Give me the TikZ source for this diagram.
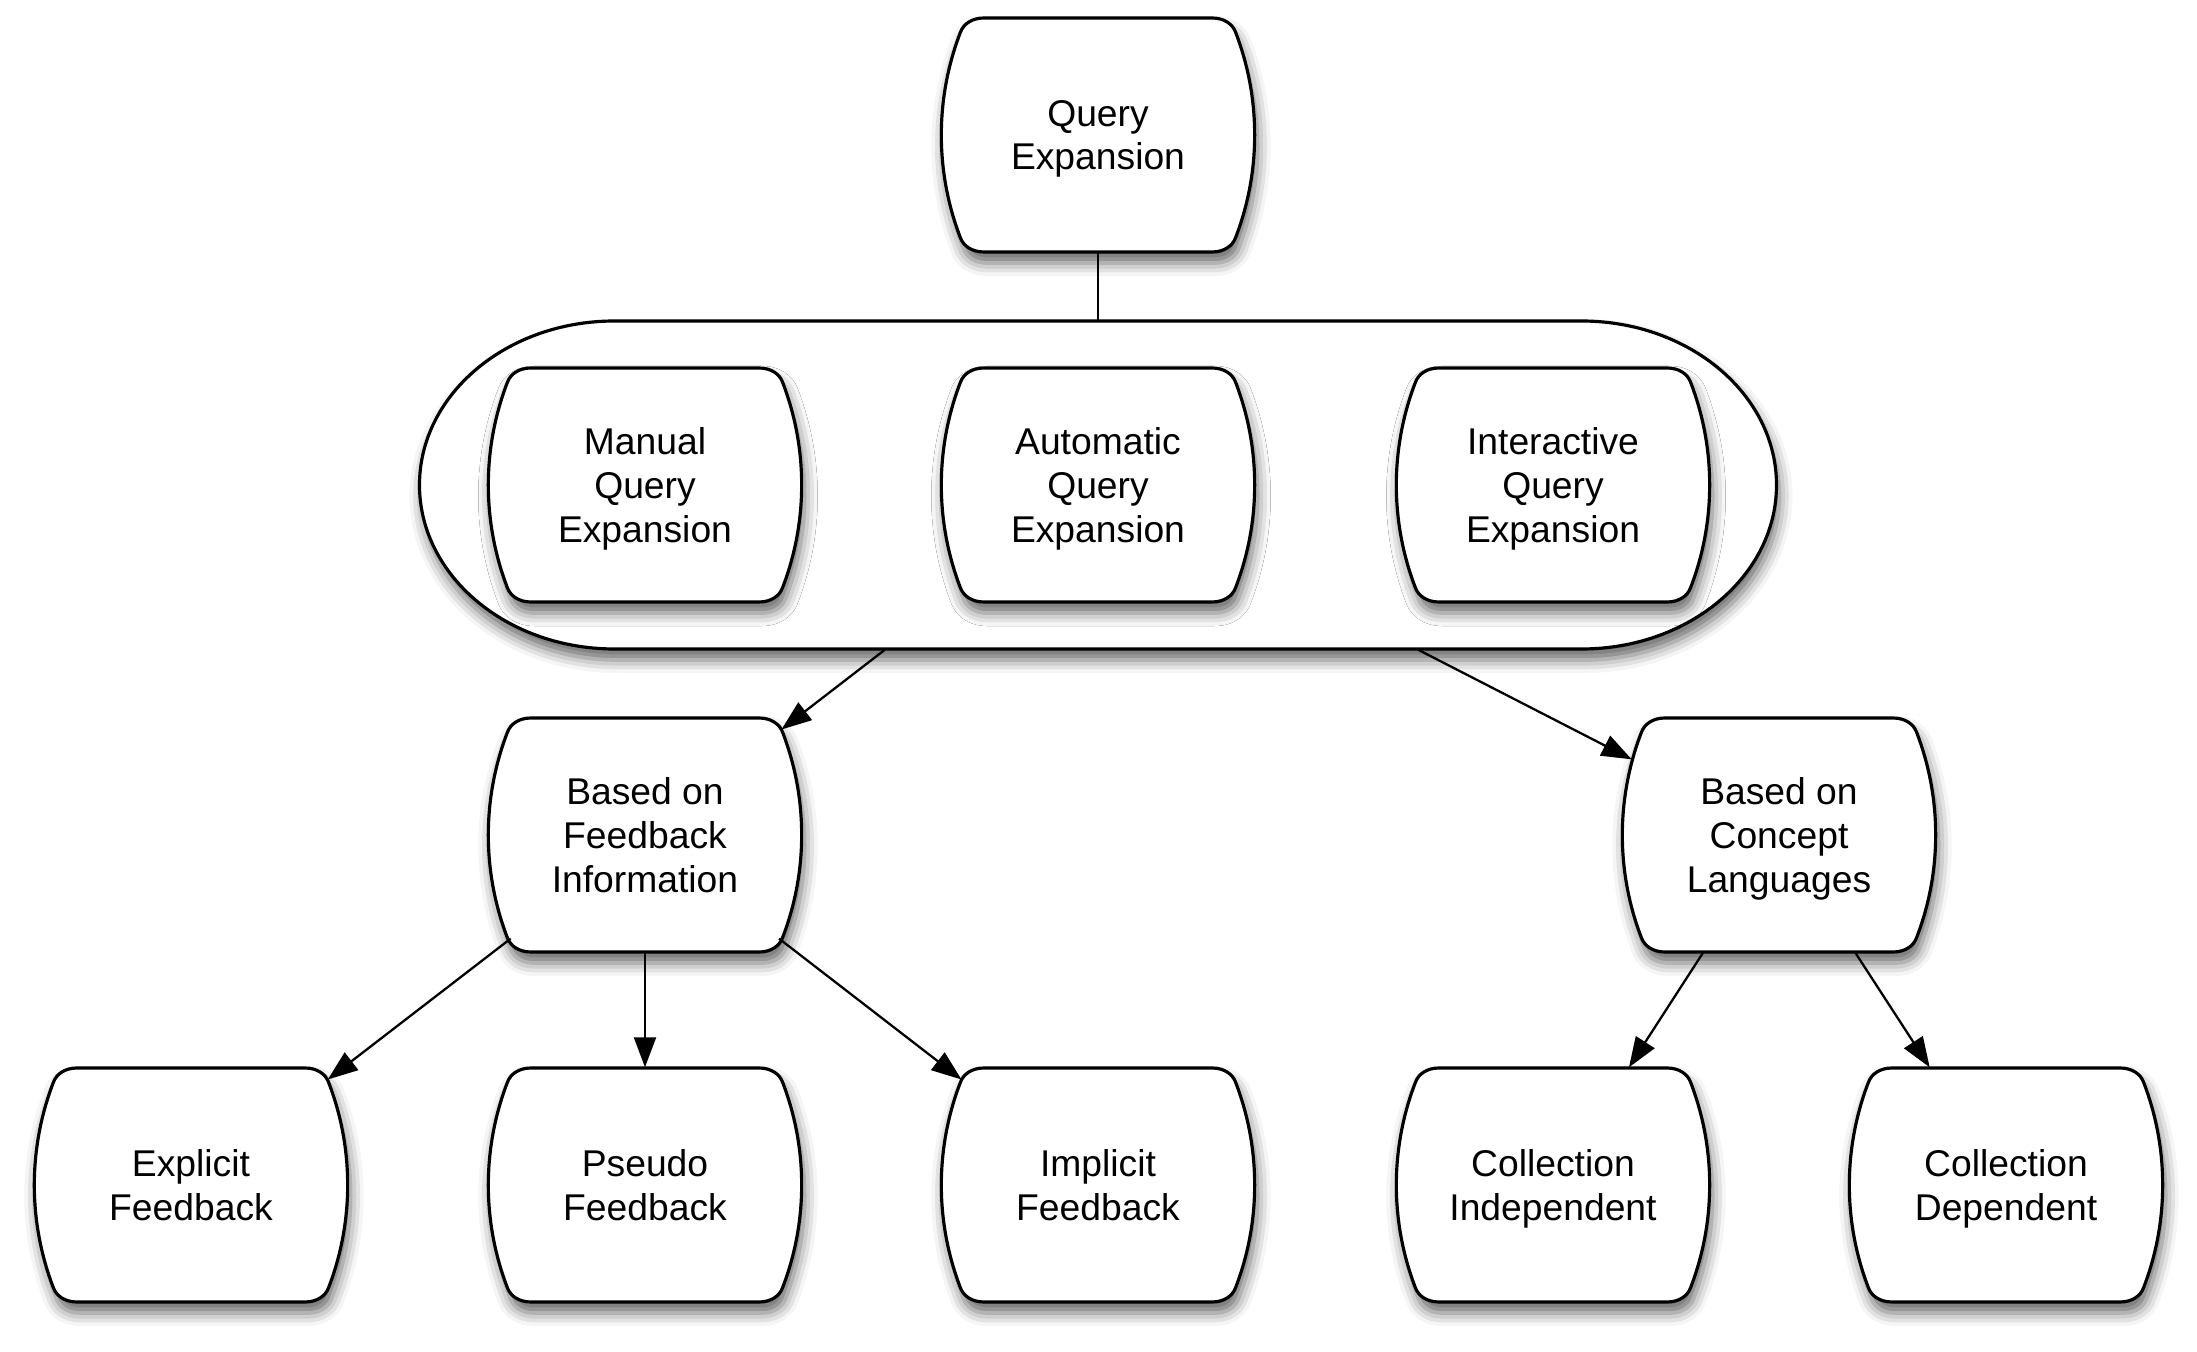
\documentclass[tikz,border=0pt]{standalone}
\usepackage{fontspec}
\setmainfont{Liberation Sans}
\usetikzlibrary{positioning, arrows.meta, backgrounds, shadows.blur}

\tikzset{
  box/.style={rectangle, minimum width=3.11cm, minimum height=2.34cm, align=center, text depth=0pt, font=\fontsize{10.6}{12.5}\selectfont},
  outline/.style={draw, line width=0.9pt, fill=white, blur shadow={shadow xshift=0.03cm, shadow yshift=-0.11cm, shadow blur radius=0.13cm, shadow opacity=60}},
  link/.style={line width=0.65pt, -{Triangle[length=0.3cm,width=0.22cm]}}
}

% barrel outline round a box node
\newcommand{\barrel}[1]{%
  \path[outline, shift={(#1.center)}] (-1.14,1.17) -- (1.14,1.17)
    .. controls (1.26,1.17) and (1.345,1.11) .. (1.375,1.03)
    arc[start angle=21.1, end angle=-21.1, radius=2.86cm]
    .. controls (1.345,-1.11) and (1.26,-1.17) .. (1.14,-1.17)
    -- (-1.14,-1.17)
    .. controls (-1.26,-1.17) and (-1.345,-1.11) .. (-1.375,-1.03)
    arc[start angle=201.1, end angle=158.9, radius=2.86cm]
    .. controls (-1.345,1.11) and (-1.26,1.17) .. cycle;}

\begin{document}
\begin{tikzpicture}[node distance=3.5cm]
        \useasboundingbox (-10.98,1.35) rectangle (10.99,-12.17);

        % Root
        \node[box] (qe) {Query\\Expansion};

        % Kinds of expansion
        \node[rectangle, minimum width=13.57cm, minimum height=3.28cm, below of=qe] (methods) {};
        \node[box] (auto) at (methods) {Automatic\\Query\\Expansion};
        \node[box, left of=auto, node distance=4.53cm] (manual) {Manual\\Query\\Expansion};
        \node[box, right of=auto, node distance=4.55cm] (inter) {Interactive\\Query\\Expansion};

        % Approaches
        \node[box, below of=manual] (feedback) {Based on\\Feedback\\Information};
        \node[box, right of=feedback, node distance=11.34cm] (concept) {Based on\\Concept\\Languages};

        % Leaves
        \node[box, below of=feedback] (pseudo) {Pseudo\\Feedback};
        \node[box, left of=pseudo, node distance=4.54cm] (explicit) {Explicit\\Feedback};
        \node[box, right of=pseudo, node distance=4.53cm] (implicit) {Implicit\\Feedback};
        \node[box, below of=inter, node distance=7cm] (indep) {Collection\\Independent};
        \node[box, right of=indep, node distance=4.53cm] (dep) {Collection\\Dependent};

        % Outlines
        \begin{scope}[on background layer]
            \path[outline, shift={(methods.center)}] (-4.835,1.64) -- (4.835,1.64)
                arc[start angle=90, end angle=-90, x radius=1.95cm, y radius=1.64cm]
                -- (-4.835,-1.64)
                arc[start angle=270, end angle=90, x radius=1.95cm, y radius=1.64cm] -- cycle;
            \barrel{qe}
            \barrel{manual}
            \barrel{auto}
            \barrel{inter}
            \barrel{feedback}
            \barrel{concept}
            \barrel{explicit}
            \barrel{pseudo}
            \barrel{implicit}
            \barrel{indep}
            \barrel{dep}
        \end{scope}

        % Connections
        \draw[line width=0.65pt] (qe) -- (methods);
        \draw[link, shorten >=-0.2cm] (methods) -- (feedback);
        \draw[link, shorten >=-0.1cm] (methods) -- (concept);
        \draw[link, shorten <=-0.23cm, shorten >=-0.2cm] (feedback) -- (explicit);
        \draw[link] (feedback) -- (pseudo);
        \draw[link, shorten <=-0.23cm, shorten >=-0.2cm] (feedback) -- (implicit);
        \draw[link] (concept) -- (indep);
        \draw[link] (concept) -- (dep);
    \end{tikzpicture}
\end{document}
